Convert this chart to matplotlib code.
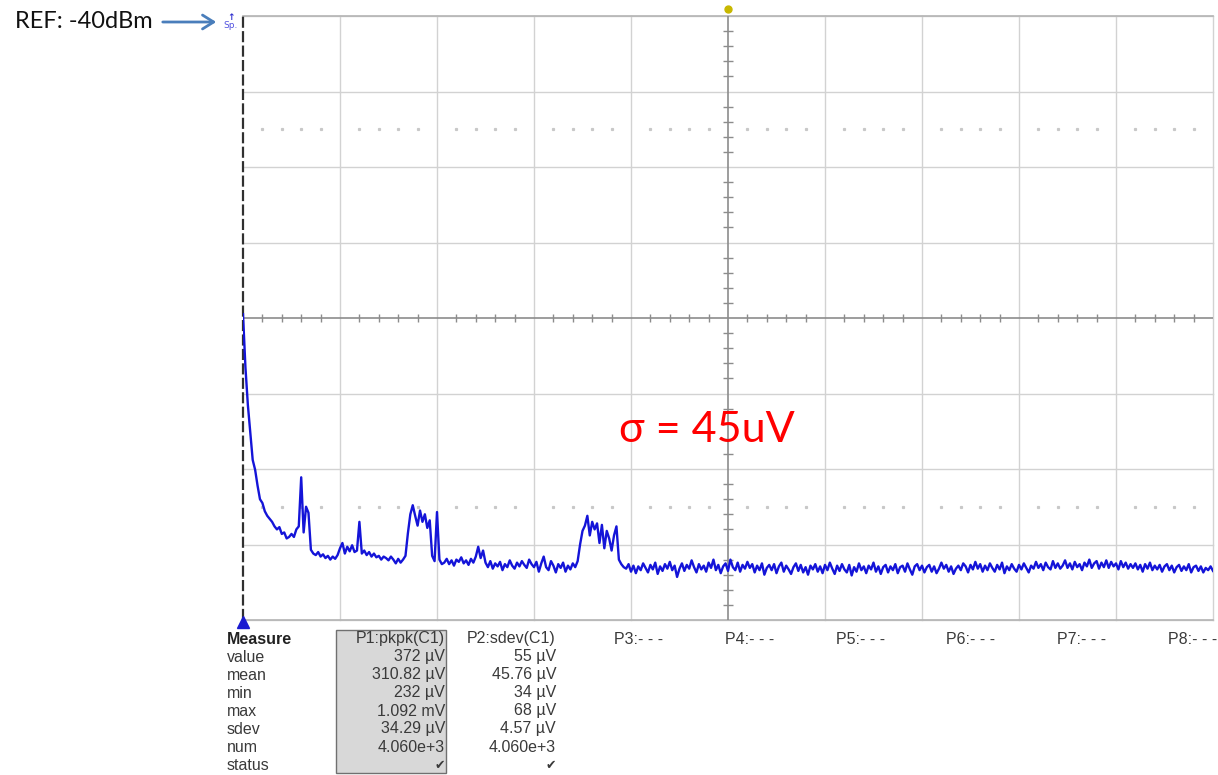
import numpy as np
import matplotlib
matplotlib.use("Agg")
import matplotlib.pyplot as plt
from matplotlib.patches import Rectangle, FancyArrowPatch

# ---------------- data (trace in screen divisions, 0.025 div sampling) ----------------
trace_decay = [4.05, 3.35, 2.85, 2.48, 2.12, 1.99, 1.78, 1.60, 1.55, 1.44,
               1.38, 1.34, 1.30, 1.24, 1.20, 1.23, 1.14, 1.16, 1.08, 1.10,
               1.14, 1.10, 1.20, 1.24, 1.89, 1.16, 1.50, 1.42, 0.93, 0.88]
trace_early = [0.86, 0.90, 0.84, 0.87, 0.82, 0.85, 0.80, 0.84, 0.81, 0.86,
               0.95, 1.02, 0.88, 0.97, 0.91, 0.99, 0.90, 0.92, 1.30, 0.88,
               0.92, 0.86, 0.90, 0.84, 0.88, 0.83, 0.85, 0.80, 0.84, 0.82,
               0.79, 0.84, 0.80, 0.75, 0.81, 0.76, 0.80]
trace_bump1 = [0.85, 1.15, 1.40, 1.52, 1.38, 1.25, 1.45, 1.30, 1.40, 1.22,
               1.32, 0.85, 0.78, 1.43, 0.80, 0.74]
trace_mid = [0.76, 0.81, 0.74, 0.79, 0.72, 0.80, 0.77, 0.83, 0.75, 0.79,
             0.73, 0.81, 0.76, 0.84, 0.97, 0.82, 0.92, 0.76, 0.70, 0.78,
             0.68, 0.75, 0.71, 0.77, 0.66, 0.74, 0.70, 0.79, 0.72, 0.68,
             0.76, 0.71, 0.78, 0.73, 0.69, 0.80, 0.74, 0.70, 0.77, 0.64,
             0.75, 0.84, 0.70, 0.66, 0.78, 0.72, 0.63, 0.74, 0.69, 0.76,
             0.64, 0.72, 0.67, 0.75, 0.70, 0.78]
trace_bump2 = [1.00, 1.18, 1.25, 1.38, 1.12, 1.30, 1.20, 1.28, 1.02, 1.26,
               0.95, 1.18, 1.08, 0.92, 1.12, 1.24, 0.80, 0.74, 0.70]
trace_floor = [0.68, 0.74, 0.64, 0.72, 0.62, 0.71, 0.66, 0.75, 0.69, 0.63,
               0.73, 0.67, 0.76, 0.61, 0.71, 0.65, 0.74, 0.68, 0.77, 0.66,
               0.72, 0.57, 0.68, 0.75, 0.65, 0.73, 0.68, 0.79, 0.70, 0.63,
               0.74, 0.67, 0.72, 0.64, 0.76, 0.69, 0.80, 0.66, 0.73, 0.62,
               0.71, 0.75, 0.65, 0.80, 0.70, 0.66, 0.76, 0.64, 0.73, 0.68,
               0.77, 0.69, 0.74, 0.63, 0.72, 0.66, 0.75, 0.60, 0.69, 0.73,
               0.66, 0.74, 0.62, 0.71, 0.76, 0.64, 0.72, 0.67, 0.61, 0.70,
               0.75, 0.65, 0.73, 0.63, 0.70, 0.60, 0.72, 0.67, 0.74, 0.64,
               0.71, 0.62, 0.73, 0.66, 0.76, 0.68, 0.61, 0.72, 0.65, 0.74,
               0.67, 0.63, 0.73, 0.59, 0.70, 0.64, 0.75, 0.66, 0.71, 0.62,
               0.72, 0.67, 0.76, 0.64, 0.71, 0.61, 0.70, 0.73, 0.63, 0.71,
               0.66, 0.74, 0.62, 0.70, 0.72, 0.64, 0.75, 0.67, 0.60, 0.71,
               0.74, 0.66, 0.72, 0.63, 0.70, 0.73, 0.64, 0.71, 0.62, 0.68,
               0.76, 0.68, 0.73, 0.64, 0.71, 0.61, 0.68, 0.72, 0.66, 0.75,
               0.71, 0.63, 0.73, 0.67, 0.77, 0.68, 0.74, 0.64, 0.72, 0.66,
               0.75, 0.69, 0.64, 0.73, 0.67, 0.76, 0.62, 0.71, 0.66, 0.74,
               0.68, 0.64, 0.73, 0.67, 0.75, 0.69, 0.63, 0.72, 0.68, 0.77,
               0.69, 0.74, 0.66, 0.76, 0.70, 0.67, 0.78, 0.69, 0.75, 0.68,
               0.72, 0.79, 0.69, 0.75, 0.67, 0.77, 0.70, 0.74, 0.66, 0.76,
               0.71, 0.80, 0.69, 0.75, 0.78, 0.68, 0.76, 0.70, 0.79, 0.69,
               0.77, 0.71, 0.75, 0.67, 0.78, 0.70, 0.76, 0.68, 0.74, 0.69,
               0.75, 0.67, 0.73, 0.64, 0.74, 0.68, 0.76, 0.66, 0.72, 0.67,
               0.73, 0.64, 0.71, 0.74, 0.66, 0.72, 0.63, 0.70, 0.73, 0.65,
               0.71, 0.66, 0.74, 0.63, 0.70, 0.72, 0.65, 0.71, 0.63, 0.69,
               0.66, 0.71, 0.65]

measure_labels = ["value", "mean", "min", "max", "sdev", "num", "status"]
p1_header = "P1:pkpk(C1)"
p1_values = ["372 µV", "310.82 µV", "232 µV", "1.092 mV", "34.29 µV", "4.060e+3", "✔"]
p2_header = "P2:sdev(C1)"
p2_values = ["55 µV", "45.76 µV", "34 µV", "68 µV", "4.57 µV", "4.060e+3", "✔"]
other_params = ["P3:- - -", "P4:- - -", "P5:- - -", "P6:- - -", "P7:- - -", "P8:- - -"]
ref_label = "REF: -40dBm"
sigma_label = "σ = 45uV"

# ---------------- figure ----------------
W, H = 1218, 775
fig = plt.figure(figsize=(W / 100, H / 100), dpi=100)
fig.patch.set_facecolor("white")


def fx(px):
    return px / W


def fy(py):
    return 1 - py / H


ax = fig.add_axes([fx(243), fy(620), (1213 - 243) / W, (620 - 16) / H])
ax.set_xlim(0, 10)
ax.set_ylim(0, 8)
ax.set_axis_off()

grid_c = "#d2d2d2"
for gx in range(1, 11):
    if gx != 5:
        ax.plot([gx, gx], [0, 8], color=grid_c, lw=1.0, zorder=1, clip_on=False)
for gy in range(0, 9):
    if gy != 4:
        ax.plot([0, 10], [gy, gy], color=grid_c, lw=1.0, zorder=1, clip_on=False)
ax.plot([0, 10], [8, 8], color="#b4b4b4", lw=1.2, zorder=1, clip_on=False)
ax.plot([0, 10], [0, 0], color="#b4b4b4", lw=1.2, zorder=1, clip_on=False)

# dotted rows
dots_x = [k * 0.2 for k in range(1, 50) if k % 5 != 0]
for ry in (1.5, 6.5):
    ax.plot(dots_x, [ry] * len(dots_x), ls="none", marker="s", ms=1.3,
            color="#c8c8c8", zorder=1)

# centre crosshair with minor ticks
cc = "#8c8c8c"
ax.plot([0, 10], [4, 4], color=cc, lw=1.2, zorder=2)
ax.plot([5, 5], [0, 8], color=cc, lw=1.2, zorder=2)
tx = [k * 0.2 for k in range(1, 50) if k % 5 != 0]
ax.plot(tx, [4] * len(tx), ls="none", marker="|", ms=6, mew=1.0, color=cc, zorder=2)
ty = [k * 0.2 for k in range(1, 40) if k % 5 != 0]
ax.plot([5] * len(ty), ty, ls="none", marker="_", ms=7, mew=1.0, color=cc, zorder=2)

# left dashed edge
ax.plot([0, 0], [0, 8], color="#303030", lw=1.6, ls=(0, (5, 1.5)), zorder=3, clip_on=False)

# trace
trace = trace_decay + trace_early + trace_bump1 + trace_mid + trace_bump2 + trace_floor
xs = np.linspace(0, 10, len(trace))
ax.plot(xs, trace, color="#1414d8", lw=1.7, zorder=4)

# markers
ax.plot([0], [-0.03], marker="^", ms=8, color="#1a1ad0", clip_on=False, zorder=5)
ax.plot([5], [8.09], marker="o", ms=5, color="#c8b800", clip_on=False, zorder=5)
fig.text(fx(231), fy(26), "Sp.", fontsize=6.5, color="#5050e0", ha="center", va="center",
         family="DejaVu Sans")
fig.text(fx(231), fy(17), "↑", fontsize=6.5, color="#3030d0", ha="center", va="center",
         family="DejaVu Sans", fontweight="bold")

# annotations
fig.text(fx(15), fy(22), ref_label, fontsize=17, color="#111111", ha="left", va="center",
         family=["Lato", "DejaVu Sans"])
arr = FancyArrowPatch((fx(160), fy(22)), (fx(219), fy(22)), transform=fig.transFigure,
                      arrowstyle="->,head_length=8,head_width=5", color="#4a7ebb", lw=2)
fig.patches.append(arr)
fig.text(fx(619), fy(430), sigma_label, fontsize=31, color="#ff0000", ha="left", va="center",
         family=["Lato", "DejaVu Sans"])

# measurement table
box = Rectangle((fx(336), fy(773)), (446 - 336) / W, (773 - 630) / H,
                transform=fig.transFigure, facecolor="#d8d8d8", edgecolor="#707070", lw=1.0)
fig.patches.append(box)
tc = "#3a3a3a"
tfam = ["Liberation Sans", "DejaVu Sans"]
fs = 11.5
fig.text(fx(227), fy(639), "Measure", fontsize=fs, fontweight="bold", color="#222222",
         ha="left", va="center", family=tfam)
fig.text(fx(445), fy(639), p1_header, fontsize=fs, color=tc, ha="right", va="center", family=tfam)
fig.text(fx(556), fy(639), p2_header, fontsize=fs, color=tc, ha="right", va="center", family=tfam)
px_other = [614, 725, 836, 946, 1057, 1168]
for lab, px in zip(other_params, px_other):
    fig.text(fx(px), fy(639), lab, fontsize=fs, color=tc, ha="left", va="center", family=tfam)
row_y = [657, 675, 693, 711, 729, 747, 766]
for lab, v1, v2, ry in zip(measure_labels, p1_values, p2_values, row_y):
    fig.text(fx(227), fy(ry), lab, fontsize=fs, color=tc, ha="left", va="center", family=tfam)
    fsv = 9 if v1 == "✔" else fs
    fig.text(fx(445), fy(ry), v1, fontsize=fsv, color=tc, ha="right", va="center", family=tfam)
    fig.text(fx(556), fy(ry), v2, fontsize=fsv, color=tc, ha="right", va="center", family=tfam)

fig.savefig("out.png", dpi=100)
